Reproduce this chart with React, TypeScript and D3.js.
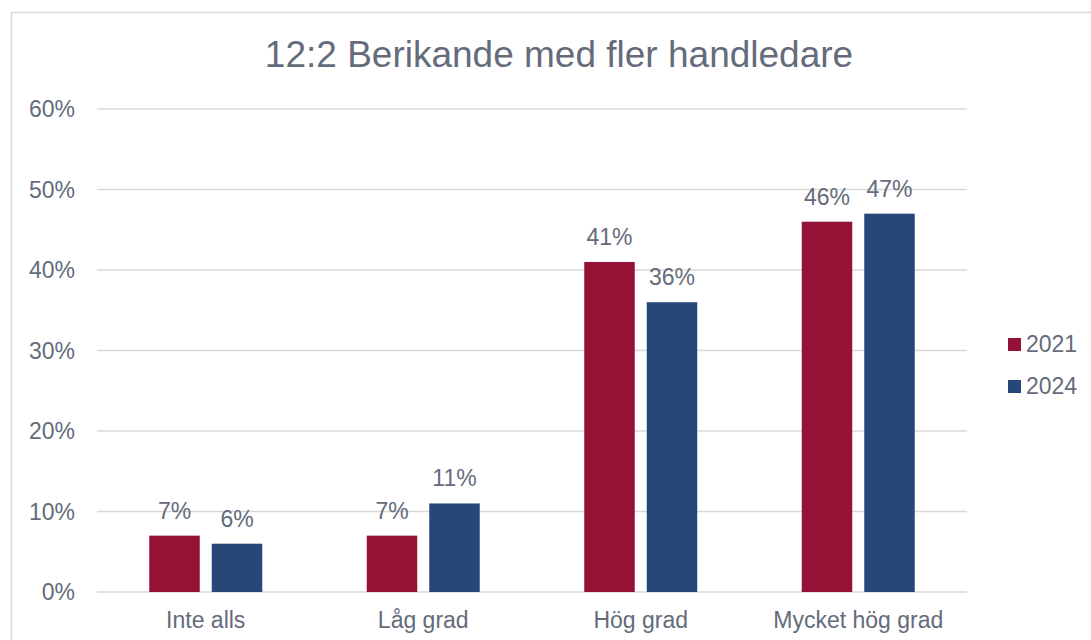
import React from "react";
import * as d3 from "d3";

const title = "12:2 Berikande med fler handledare";
const categories = ["Inte alls", "Låg grad", "Hög grad", "Mycket hög grad"];
const seriesNames = ["2021", "2024"];
const values2021 = [7, 7, 41, 46];
const values2024 = [6, 11, 36, 47];
const yTicks = [0, 10, 20, 30, 40, 50, 60];
const colors = ["#951237", "#264878"];

export default function App() {
  const W = 1091, H = 640;
  const left = 97, right = 967, top = 109, bottom = 592;
  const font = "'Liberation Sans', Arial, sans-serif";
  const textColor = "#646b7a";
  const x = d3.scaleBand<string>().domain(categories).range([left, right]).padding(0);
  const y = d3.scaleLinear().domain([0, 60]).range([bottom, top]);
  const inner = d3.scaleBand<string>().domain(seriesNames).range([0, 113]).paddingInner(0.192);
  const series = [values2021, values2024];

  return (
    <svg width={W} height={H} style={{ position: "absolute", left: 0, top: 0, background: "#fff" }} fontFamily={font}>
      <rect x={11.5} y={12.5} width={1200} height={800} fill="#fff" stroke="#d9d9d9" strokeWidth={1.5} />
      <text x={559} y={67} textAnchor="middle" fontSize={37} fill={textColor}>{title}</text>
      {yTicks.map((t) => (
        <g key={t}>
          <line x1={left} x2={right} y1={y(t)} y2={y(t)} stroke="#d9d9d9" strokeWidth={1.5} />
          <text x={75} y={y(t)} dy="0.35em" textAnchor="end" fontSize={23} fill={textColor}>{t}%</text>
        </g>
      ))}
      {categories.map((c, i) => {
        const gx = x(c)! + x.bandwidth() / 2 - 56.5;
        return (
          <g key={c}>
            {series.map((vals, s) => {
              const bx = gx + inner(seriesNames[s])!;
              const bw = inner.bandwidth();
              return (
                <g key={s}>
                  <rect x={bx} y={y(vals[i])} width={bw} height={bottom - y(vals[i])} fill={colors[s]} />
                  <text x={bx + bw / 2} y={y(vals[i]) - 17} textAnchor="middle" fontSize={23} fill={textColor}>{vals[i]}%</text>
                </g>
              );
            })}
            <text x={x(c)! + x.bandwidth() / 2} y={628} textAnchor="middle" fontSize={23} fill={textColor}>{c}</text>
          </g>
        );
      })}
      {seriesNames.map((n, s) => (
        <g key={n}>
          <rect x={1008} y={338 + s * 42} width={13} height={13} fill={colors[s]} />
          <text x={1026} y={352 + s * 42} fontSize={23} fill={textColor}>{n}</text>
        </g>
      ))}
    </svg>
  );
}
